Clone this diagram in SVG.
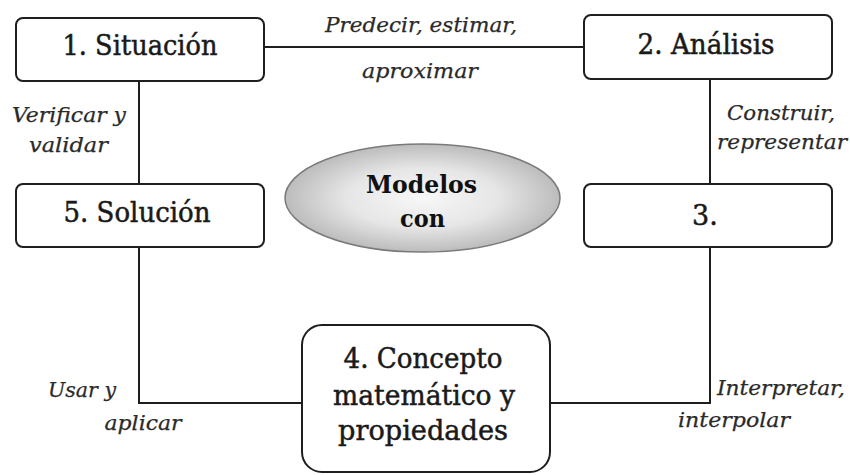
<svg xmlns="http://www.w3.org/2000/svg" width="850" height="475" viewBox="0 0 850 475">
<style>
.box{fill:#fff;stroke:#1e1e1e;stroke-width:2}
.t{font-family:"DejaVu Serif","Liberation Serif",serif;font-size:27px;fill:#1a1a1a;stroke:#1a1a1a;stroke-width:0.5;text-anchor:middle}
.b{font-family:"DejaVu Serif","Liberation Serif",serif;font-size:24px;font-weight:bold;fill:#111;text-anchor:middle}
.l{font-family:"DejaVu Serif","Liberation Serif",serif;font-size:20.5px;font-style:italic;fill:#2a2a2a;stroke:#2a2a2a;stroke-width:0.25;text-anchor:middle}
.c{fill:none;stroke:#1e1e1e;stroke-width:2}
</style>
<defs>
<radialGradient id="g" cx="50%" cy="50%" r="50%">
<stop offset="0" stop-color="#f7f7f7"/>
<stop offset="0.55" stop-color="#e6e6e6"/>
<stop offset="1" stop-color="#bcbcbc"/>
</radialGradient>
</defs>
<rect width="850" height="475" fill="#fff"/>
<g id="connectors">
<path class="c" d="M264 47H584"/>
<path class="c" d="M139 81V184"/>
<path class="c" d="M710 79V184"/>
<path class="c" d="M139 247V403H302"/>
<path class="c" d="M710 247V403H550"/>
</g>
<g id="labels">
<text class="l" x="421" y="32" textLength="192" lengthAdjust="spacingAndGlyphs">Predecir, estimar,</text>
<text class="l" x="420" y="78" textLength="116" lengthAdjust="spacingAndGlyphs">aproximar</text>
<text class="l" x="69" y="122" textLength="114" lengthAdjust="spacingAndGlyphs">Verificar y</text>
<text class="l" x="68.5" y="152" textLength="79" lengthAdjust="spacingAndGlyphs">validar</text>
<text class="l" x="781" y="120" textLength="108" lengthAdjust="spacingAndGlyphs">Construir,</text>
<text class="l" x="782" y="149" textLength="130" lengthAdjust="spacingAndGlyphs">representar</text>
<text class="l" x="82" y="397" textLength="68" lengthAdjust="spacingAndGlyphs">Usar y</text>
<text class="l" x="143" y="430" textLength="77" lengthAdjust="spacingAndGlyphs">aplicar</text>
<text class="l" x="781" y="395" textLength="128" lengthAdjust="spacingAndGlyphs">Interpretar,</text>
<text class="l" x="734" y="427" textLength="112" lengthAdjust="spacingAndGlyphs">interpolar</text>
</g>
<g id="n1">
<rect class="box" x="16" y="18" width="248" height="63" rx="7"/>
<text class="t" x="140" y="55" textLength="155" lengthAdjust="spacingAndGlyphs">1. Situación</text>
</g>
<g id="n2">
<rect class="box" x="584" y="15" width="248" height="64" rx="7"/>
<text class="t" x="706" y="54" textLength="137" lengthAdjust="spacingAndGlyphs">2. Análisis</text>
</g>
<g id="n3">
<rect class="box" x="584" y="184" width="248" height="63" rx="7"/>
<text class="t" x="705" y="225">3.</text>
</g>
<g id="n5">
<rect class="box" x="16" y="184" width="248" height="63" rx="7"/>
<text class="t" x="137" y="222" textLength="147" lengthAdjust="spacingAndGlyphs">5. Solución</text>
</g>
<g id="n4">
<rect class="box" x="302" y="325" width="248" height="147" rx="20"/>
<text class="t" x="423" y="368" textLength="159" lengthAdjust="spacingAndGlyphs">4. Concepto</text>
<text class="t" x="424" y="405" textLength="182" lengthAdjust="spacingAndGlyphs">matemático y</text>
<text class="t" x="423" y="440" textLength="170" lengthAdjust="spacingAndGlyphs">propiedades</text>
</g>
<g id="center">
<ellipse cx="422.5" cy="198" rx="137.5" ry="54" fill="url(#g)" stroke="#7a7a7a" stroke-width="1.5"/>
<text class="b" x="421.5" y="193" textLength="111" lengthAdjust="spacingAndGlyphs">Modelos</text>
<text class="b" x="422.5" y="227" textLength="45" lengthAdjust="spacingAndGlyphs">con</text>
</g>
</svg>
